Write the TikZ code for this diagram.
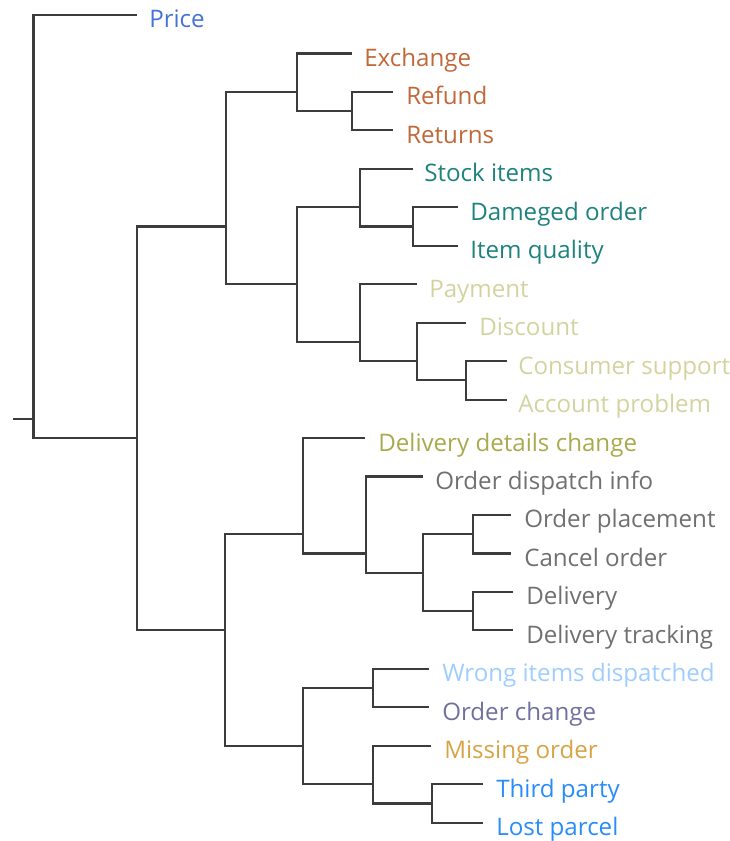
\documentclass[tikz,border=0pt]{standalone}
\usepackage{fontspec}
\setmainfont{Open Sans}
\definecolor{linegray}{RGB}{60,60,60}
\definecolor{cPrice}{RGB}{70,115,215}
\definecolor{cRet}{RGB}{192,104,58}
\definecolor{cTeal}{RGB}{30,130,125}
\definecolor{cPay}{RGB}{210,212,160}
\definecolor{cDDC}{RGB}{168,170,78}
\definecolor{cGray}{RGB}{112,112,112}
\definecolor{cWrong}{RGB}{160,205,255}
\definecolor{cOChg}{RGB}{112,112,160}
\definecolor{cMiss}{RGB}{214,164,70}
\definecolor{cThird}{RGB}{40,140,250}
\begin{document}
\begin{tikzpicture}[x=0.75pt,y=-0.75pt,
  link/.style={draw=linegray,line width=1.6pt},
  lab/.style={anchor=base west,inner sep=0pt,font=\fontsize{18.1}{20}\selectfont}]
\useasboundingbox (0,0) rectangle (730,841);
% internal nodes
\coordinate (r0) at (13,418.83);
\coordinate (R) at (33.5,418.83);
\coordinate (M) at (137,438.06);
\coordinate (T) at (226,226.53);
\coordinate (B) at (225,630.36);
\coordinate (A) at (297,91.92);
\coordinate (A2) at (352,111.15);
\coordinate (T2) at (297,284.22);
\coordinate (Bc) at (360,207.3);
\coordinate (B2) at (413,226.53);
\coordinate (C) at (360,341.91);
\coordinate (C2) at (417,361.14);
\coordinate (C3) at (466,380.37);
\coordinate (D) at (303,534.21);
\coordinate (E) at (366,553.44);
\coordinate (F) at (423,572.67);
\coordinate (F1) at (473,534.21);
\coordinate (F2) at (473,611.13);
\coordinate (G) at (303,745.74);
\coordinate (G1) at (373,688.05);
\coordinate (G2) at (373,784.2);
\coordinate (G3) at (432,803.43);
% leaf ends
\coordinate (l0) at (137,15);
\coordinate (l1) at (352,53.46);
\coordinate (l2) at (393,91.92);
\coordinate (l3) at (393,130.38);
\coordinate (l4) at (413,168.84);
\coordinate (l5) at (458,207.3);
\coordinate (l6) at (458,245.76);
\coordinate (l7) at (417,284.22);
\coordinate (l8) at (466,322.68);
\coordinate (l9) at (507,361.14);
\coordinate (l10) at (507,399.6);
\coordinate (l11) at (365,438.06);
\coordinate (l12) at (423,476.52);
\coordinate (l13) at (511,514.98);
\coordinate (l14) at (511,553.44);
\coordinate (l15) at (513,591.9);
\coordinate (l16) at (513,630.36);
\coordinate (l17) at (429,668.82);
\coordinate (l18) at (429,707.28);
\coordinate (l19) at (431,745.74);
\coordinate (l20) at (483,784.2);
\coordinate (l21) at (483,822.66);
% connectors
\draw[link] (r0) -- (R);
\draw[link] (l0) -| (R) |- (M);
\draw[link] (T) -| (M) |- (B);
\draw[link] (A) -| (T) |- (T2);
\draw[link] (l1) -| (A) |- (A2);
\draw[link] (l2) -| (A2) |- (l3);
\draw[link] (Bc) -| (T2) |- (C);
\draw[link] (l4) -| (Bc) |- (B2);
\draw[link] (l5) -| (B2) |- (l6);
\draw[link] (l7) -| (C) |- (C2);
\draw[link] (l8) -| (C2) |- (C3);
\draw[link] (l9) -| (C3) |- (l10);
\draw[link] (D) -| (B) |- (G);
\draw[link] (l11) -| (D) |- (E);
\draw[link] (l12) -| (E) |- (F);
\draw[link] (F1) -| (F) |- (F2);
\draw[link] (l13) -| (F1) |- (l14);
\draw[link] (l15) -| (F2) |- (l16);
\draw[link] (G1) -| (G) |- (G2);
\draw[link] (l17) -| (G1) |- (l18);
\draw[link] (l19) -| (G2) |- (G3);
\draw[link] (l20) -| (G3) |- (l21);
% labels
\node[lab,text=cPrice] (t0) at (149,28) {Price};
\node[lab,text=cRet] (t1) at (364,66.46) {Exchange};
\node[lab,text=cRet] (t2) at (406,104.92) {Refund};
\node[lab,text=cRet] (t3) at (406,143.38) {Returns};
\node[lab,text=cTeal] (t4) at (424,181.84) {Stock items};
\node[lab,text=cTeal] (t5) at (470,220.3) {Dameged order};
\node[lab,text=cTeal] (t6) at (470,258.76) {Item quality};
\node[lab,text=cPay] (t7) at (429,297.22) {Payment};
\node[lab,text=cPay] (t8) at (479,335.68) {Discount};
\node[lab,text=cPay] (t9) at (518,374.14) {Consumer support};
\node[lab,text=cPay] (t10) at (518,412.6) {Account problem};
\node[lab,text=cDDC] (t11) at (378,451.06) {Delivery details change};
\node[lab,text=cGray] (t12) at (435,489.52) {Order dispatch info};
\node[lab,text=cGray] (t13) at (524,527.98) {Order placement};
\node[lab,text=cGray] (t14) at (524,566.44) {Cancel order};
\node[lab,text=cGray] (t15) at (526,604.9) {Delivery};
\node[lab,text=cGray] (t16) at (526,643.36) {Delivery tracking};
\node[lab,text=cWrong] (t17) at (442,681.82) {Wrong items dispatched};
\node[lab,text=cOChg] (t18) at (442,720.28) {Order change};
\node[lab,text=cMiss] (t19) at (444,758.74) {Missing order};
\node[lab,text=cThird] (t20) at (496,797.2) {Third party};
\node[lab,text=cThird] (t21) at (496,835.66) {Lost parcel};
\end{tikzpicture}
\end{document}
